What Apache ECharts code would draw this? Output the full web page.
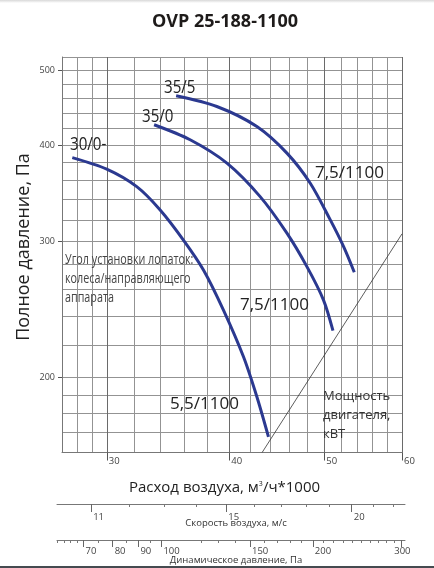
<!DOCTYPE html>
<html><head><meta charset="utf-8">
<script src="https://cdn.jsdelivr.net/npm/echarts@6/dist/echarts.min.js"></script>
<style>html,body{margin:0;padding:0;background:#fff}#c{width:434px;height:568px}</style>
</head><body><div id="c"></div>
<script>
// ---------- data ----------
const flowLabels = [30, 40, 50, 60];
const flowGridValues = [27, 28, 29, 30, 32, 34, 36, 38, 40, 42, 44, 46, 48, 50, 52, 54, 56, 58, 60];
const pressureLabels = [200, 300, 400, 500];
const pressureGridValues = [160, 170, 180, 190, 200, 220, 240, 260, 280, 300, 320, 340, 360, 380, 400, 420, 440, 460, 480, 500, 520];

const curve30_0_flow = [27.66, 29.99, 32.18, 34.0, 35.91, 37.64, 39.45, 41.35, 42.67, 43.85];
const curve30_0_pres = [385.3, 372.3, 353.4, 329.7, 301.4, 275.7, 244.6, 212.8, 188.9, 167.6];
const curve35_0_flow = [33.52, 36.48, 39.77, 43.0, 45.79, 47.99, 49.9, 51.02];
const curve35_0_pres = [424.9, 406.3, 379.0, 343.0, 307.6, 278.4, 252.0, 230.0];
const curve35_5_flow = [35.30, 38.84, 42.67, 45.79, 48.37, 50.7, 52.31, 53.64];
const curve35_5_pres = [463.3, 448.7, 422.7, 390.5, 357.0, 320.0, 295.5, 273.8];
const powerFlow = [43.2, 60];
const powerPres = [160, 307];

const velocityMajor = [11, 15, 20];
const velocityMinor = [12, 13, 14, 16, 17, 18, 19, 21, 22];
const dynMajor = [70, 80, 90, 100, 150, 200, 300];
const dynMinor = [62, 64, 66, 68, 75, 85, 95, 120, 130, 140, 160, 170, 180, 190, 210, 220, 230, 240, 250, 260, 270, 280, 290];

// ---------- helpers ----------
const L = Math.log;
const pts = (xs, ys) => xs.map((x, i) => [L(x), L(ys[i])]);
const FONT = '"Open Sans", "DejaVu Sans", sans-serif';
const fmt = v => String(Math.round(Math.exp(v)));
const GRID_C = '#939393';

const chart = echarts.init(document.getElementById('c'), null, {renderer: 'canvas'});

const curveStyle = {color: '#2b3990', width: 3};

function label(text, x, y, size, opts) {
  opts = opts || {};
  return {type: 'text', x: x, y: y, z: 100, scaleX: opts.scaleX || 1,
    style: {text: text, font: size + 'px ' + FONT, fill: opts.fill || '#222',
      textAlign: opts.align || 'left', textVerticalAlign: opts.valign || 'middle',
      lineHeight: opts.lineHeight}};
}

const option = {
  animation: false,
  backgroundColor: '#fff',
  title: {
    text: 'OVP 25-188-1100', left: 220, top: 8, textAlign: 'center',
    textStyle: {fontFamily: FONT, fontWeight: 'bold', fontSize: 18, color: '#1e1b1a'}
  },
  grid: [
    {left: 62, right: 32, top: 57, bottom: 115.5},
    {left: 57, right: 29, top: 503, height: 1},
    {left: 57, right: 29, top: 539, height: 1}
  ],
  xAxis: [
    { // main grid lines
      gridIndex: 0, type: 'value', min: L(27), max: L(60),
      axisLine: {show: true, lineStyle: {color: '#777', width: 1}},
      axisTick: {show: false, customValues: flowGridValues.map(L)},
      axisLabel: {show: false},
      splitLine: {show: true, lineStyle: {color: GRID_C, width: 1}}
    },
    { // main ticks + labels
      gridIndex: 0, type: 'value', min: L(27), max: L(60), position: 'bottom',
      axisLine: {show: false},
      axisTick: {show: true, length: 8, customValues: flowLabels.map(L), lineStyle: {color: '#555'}},
      axisLabel: {customValues: flowLabels.map(L), formatter: fmt, align: 'left', verticalAlign: 'top',
        margin: 4, padding: [0, 0, 0, 2], fontSize: 9.5, color: '#444', fontFamily: FONT},
      splitLine: {show: true, lineStyle: {color: '#6a6a6a', width: 1}}
    },
    { // velocity major
      gridIndex: 1, type: 'value', min: L(10.17), max: L(22.6), position: 'bottom',
      axisLine: {show: true, lineStyle: {color: '#777', width: 1}},
      axisTick: {show: true, length: 8, customValues: velocityMajor.map(L), lineStyle: {color: '#666'}},
      axisLabel: {customValues: velocityMajor.map(L), formatter: fmt, align: 'left', verticalAlign: 'top',
        margin: 8, padding: [0, 0, 0, 2], fontSize: 9.5, color: '#444', fontFamily: FONT},
      splitLine: {show: false}
    },
    { // velocity minor
      gridIndex: 1, type: 'value', min: L(10.17), max: L(22.6), position: 'bottom',
      axisLine: {show: false},
      axisTick: {show: true, length: 3, customValues: velocityMinor.map(L), lineStyle: {color: '#777'}},
      axisLabel: {show: false}, splitLine: {show: false}
    },
    { // dynamic pressure major
      gridIndex: 2, type: 'value', min: L(62), max: L(305), position: 'bottom',
      axisLine: {show: true, lineStyle: {color: '#777', width: 1}},
      axisTick: {show: true, length: 7, customValues: dynMajor.map(L), lineStyle: {color: '#666'}},
      axisLabel: {customValues: dynMajor.map(L), formatter: fmt, align: 'left', verticalAlign: 'top',
        margin: 6, padding: [0, 0, 0, 2], fontSize: 9.5, color: '#444', fontFamily: FONT,
        alignMaxLabel: 'center'},
      splitLine: {show: false}
    },
    { // dynamic pressure minor
      gridIndex: 2, type: 'value', min: L(62), max: L(305), position: 'bottom',
      axisLine: {show: false},
      axisTick: {show: true, length: 3, customValues: dynMinor.map(L), lineStyle: {color: '#777'}},
      axisLabel: {show: false}, splitLine: {show: false}
    }
  ],
  yAxis: [
    {
      gridIndex: 0, type: 'value', min: L(160), max: L(520),
      axisLine: {show: true, lineStyle: {color: '#777', width: 1}},
      axisTick: {show: false, customValues: pressureGridValues.map(L)},
      axisLabel: {show: false},
      splitLine: {show: true, lineStyle: {color: GRID_C, width: 1}}
    },
    {
      gridIndex: 0, type: 'value', min: L(160), max: L(520), position: 'left',
      axisLine: {show: false},
      axisTick: {show: true, length: 4, customValues: pressureLabels.map(L), lineStyle: {color: '#555'}},
      axisLabel: {customValues: pressureLabels.map(L), formatter: fmt, margin: 7,
        fontSize: 9, color: '#444', fontFamily: FONT},
      splitLine: {show: false}
    },
    {gridIndex: 1, type: 'value', show: false, min: 0, max: 1},
    {gridIndex: 2, type: 'value', show: false, min: 0, max: 1}
  ],
  series: [
    {name: '30/0', type: 'line', xAxisIndex: 0, yAxisIndex: 0, data: pts(curve30_0_flow, curve30_0_pres),
      smooth: 0.3, symbol: 'none', lineStyle: curveStyle, z: 5},
    {name: '35/0', type: 'line', xAxisIndex: 0, yAxisIndex: 0, data: pts(curve35_0_flow, curve35_0_pres),
      smooth: 0.3, symbol: 'none', lineStyle: curveStyle, z: 5},
    {name: '35/5', type: 'line', xAxisIndex: 0, yAxisIndex: 0, data: pts(curve35_5_flow, curve35_5_pres),
      smooth: 0.3, symbol: 'none', lineStyle: curveStyle, z: 5},
    {name: 'power', type: 'line', xAxisIndex: 0, yAxisIndex: 0, data: pts(powerFlow, powerPres),
      symbol: 'none', lineStyle: {color: '#333', width: 0.8}, z: 4}
  ],
  graphic: [
    {type: 'rect', left: 0, top: 0, z: 100, shape: {width: 434, height: 3},
      style: {fill: new echarts.graphic.LinearGradient(0, 0, 0, 1, [{offset: 0, color: '#d8d8d8'}, {offset: 1, color: '#ffffff'}])}},
    {type: 'rect', left: 0, top: 566, z: 100, shape: {width: 434, height: 2}, style: {fill: '#454b50'}},
    {type: 'text', x: 24, y: 247, rotation: Math.PI / 2, z: 100,
      style: {text: 'Полное давление, Па', font: '18px ' + FONT, fill: '#222', textAlign: 'center', textVerticalAlign: 'middle'}},
    {type: 'text', x: 224.5, y: 488, z: 100,
      style: {text: 'Расход воздуха, м{s|3}/ч*1000', font: '15px ' + FONT, fill: '#222', textAlign: 'center', textVerticalAlign: 'middle',
        rich: {s: {fontSize: 7, fontFamily: FONT, fill: '#222', verticalAlign: 'top', padding: [0, 0, 8, 0]}}}},
    label('Скорость воздуха, м/с', 236, 523.5, 9.5, {align: 'center', fill: '#333'}),
    label('Динамическое давление, Па', 236, 560, 9.5, {align: 'center', fill: '#333'}),
    label('30/0-', 70, 145, 18, {scaleX: 0.84}),
    label('35/0', 142, 117, 18, {scaleX: 0.84}),
    label('35/5', 164, 88, 18, {scaleX: 0.84}),
    label('7,5/1100', 315, 173, 17),
    label('7,5/1100', 240, 305, 17),
    label('5,5/1100', 170, 404, 17),
    label('Мощность\nдвигателя,\nкВТ', 323, 387, 13, {valign: 'top', lineHeight: 19, fill: '#333'}),
    label('Угол установки лопаток:\nколеса/направляющего\nаппарата', 65, 250.5, 14, {valign: 'top', lineHeight: 19.2, fill: '#444', scaleX: 0.77})
  ]
};
chart.setOption(option);
</script>
</body></html>
